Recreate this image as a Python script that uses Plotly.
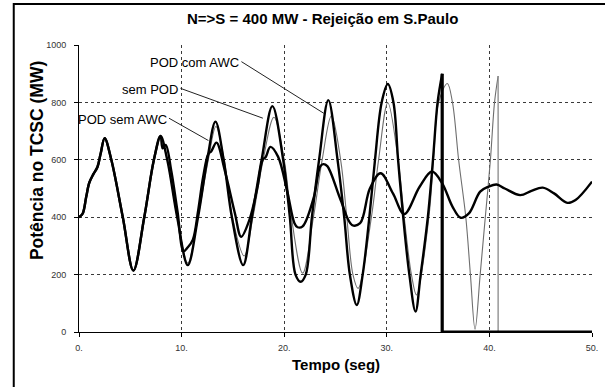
import plotly.graph_objects as go

# ---- data -------------------------------------------------------------
# common first swing (all three cases coincide)
t_common = [0.0, 0.35, 0.7, 1.0, 1.4, 1.8, 2.1, 2.5, 3.15, 4.27, 5.3, 6.36, 7.3, 7.95]
p_common = [400, 412, 470, 520, 550, 575, 620, 675, 600, 400, 214, 400, 600, 683]

# POD com AWC (thick, growing, trips near 35 s)
t_com = [8.6, 9.57, 10.6, 11.6, 12.5, 13.3, 14.1, 14.9, 16.0, 16.85, 17.8, 18.85,
         19.9, 20.55, 21.1, 21.6, 22.1, 22.7, 23.4, 24.3, 25.2, 25.85, 26.4,
         27.07, 27.65, 28.3, 28.85, 29.5, 30.1, 30.65, 31.1, 31.6, 32.2, 32.8, 33.3,
         34.0, 34.5, 34.95, 35.4]
p_com = [600, 400, 233, 400, 600, 733, 600, 400, 233, 400, 600, 787,
         600, 400, 200, 175, 200, 400, 600, 808, 600, 400, 200,
         94, 200, 400, 600, 800, 864, 800, 600, 400, 200, 71, 200,
         400, 600, 800, 900]

# sem POD (thin, growing, trips near 41 s)
t_sem = [8.6, 9.57, 10.6, 11.6, 12.6, 13.35, 14.15, 14.95, 16.1, 16.95, 17.95, 19.0,
         20.0, 20.7, 21.8, 22.85, 23.7, 24.6, 25.5, 26.1, 26.7, 27.2, 28.5, 29.2,
         30.1, 31.1, 31.7, 32.4, 32.9, 34.1, 34.55, 35.05, 35.9, 36.4, 37.0, 37.7,
         38.15, 38.6, 39.1, 39.6, 40.1, 40.5, 40.85]
p_sem = [600, 400, 240, 400, 600, 716, 600, 400, 265, 400, 600, 748,
         600, 400, 205, 400, 600, 753, 600, 400, 200, 152, 400, 600,
         799, 600, 400, 200, 129, 400, 600, 800, 866, 800, 600, 400,
         200, 10, 200, 400, 600, 800, 892]

# POD sem AWC (thick, damped)
t_pod = [8.15, 8.45, 9.0, 9.6, 10.2, 10.6, 11.1, 11.6, 12.1, 12.6, 12.9, 13.4,
         14.2, 15.2, 15.8, 16.6, 17.4, 17.9, 18.2, 18.65, 19.4, 20.3, 21.0, 21.3,
         21.8, 22.9, 23.5, 23.8, 24.2, 25.5, 26.6, 27.4, 28.35, 29.4, 30.6, 31.7,
         33.2, 34.4, 35.4, 36.4, 37.2, 38.0, 39.1, 39.9, 40.7, 41.5, 43.0, 44.1,
         45.2, 46.3, 47.6, 48.4, 50.0]
p_pod = [640, 652, 560, 420, 282, 295, 322, 420, 540, 620, 630, 660,
         564, 413, 332, 390, 506, 600, 610, 645, 611, 489, 379, 365,
         368, 471, 576, 585, 578, 460, 373, 379, 500, 553, 483, 411,
         506, 559, 518, 437, 398, 413, 489, 506, 514, 500, 477, 492,
         503, 483, 450, 460, 524]

t_end = 50.0
p_trip = 0.0

x_ticks = [0, 10, 20, 30, 40, 50]
x_tick_text = ["0.", "10.", "20.", "30.", "40.", "50."]
y_ticks = [0, 200, 400, 600, 800, 1000]

# labels: text, tail (x, y) at the text's right end, head (x, y) on the curve
labels = [
    ("POD com AWC", 15.83, 942, 23.86, 762),
    ("sem POD", 9.89, 849, 17.92, 745),
    ("POD sem AWC", 8.77, 745, 12.62, 667),
]

FONT = "Liberation Sans, Arial, sans-serif"
NARROW = "Liberation Sans Narrow, Arial Narrow, Liberation Sans, sans-serif"

fig = go.Figure()

# sem POD
x_b = t_common + t_sem
y_b = p_common + p_sem
fig.add_trace(go.Scatter(x=x_b, y=y_b, mode="lines",
                         line=dict(color="#6e6e6e", width=1.1, shape="spline", smoothing=1.0),
                         name="sem POD", showlegend=False, hoverinfo="skip"))
fig.add_trace(go.Scatter(x=[x_b[-1], x_b[-1], t_end], y=[y_b[-1], p_trip, p_trip], mode="lines",
                         line=dict(color="#8a8a8a", width=1.3),
                         showlegend=False, hoverinfo="skip"))

# POD com AWC
x_a = t_common + t_com
y_a = p_common + p_com
fig.add_trace(go.Scatter(x=x_a, y=y_a, mode="lines",
                         line=dict(color="black", width=2.4, shape="spline", smoothing=1.0),
                         name="POD com AWC", showlegend=False, hoverinfo="skip"))
fig.add_trace(go.Scatter(x=[x_a[-1], x_a[-1], t_end], y=[y_a[-1], p_trip, p_trip], mode="lines",
                         line=dict(color="black", width=3.2),
                         showlegend=False, hoverinfo="skip"))

# POD sem AWC
fig.add_trace(go.Scatter(x=t_common + t_pod, y=p_common + p_pod, mode="lines",
                         line=dict(color="black", width=2.4, shape="spline", smoothing=1.0),
                         name="POD sem AWC", showlegend=False, hoverinfo="skip"))

shapes = []
annotations = []
for text, tx, ty, hx, hy in labels:
    shapes.append(dict(type="line", xref="x", yref="y", x0=tx, y0=ty, x1=hx, y1=hy,
                       line=dict(color="#222222", width=1)))
    annotations.append(dict(x=tx, y=ty, xref="x", yref="y", text=text, showarrow=False,
                            xanchor="right", yanchor="middle", yshift=-1,
                            font=dict(family=FONT, size=13, color="black")))

# outer frame of the chart object
shapes.append(dict(type="rect", xref="paper", yref="paper",
                   x0=-0.1272, x1=1.2, y0=-0.5, y1=1.143,
                   line=dict(color="black", width=2), layer="below"))

annotations += [
    dict(text="<b>N=>S = 400 MW - Rejeição em S.Paulo</b>", xref="paper", yref="paper",
         x=0.474, y=1.094, showarrow=False, xanchor="center", yanchor="middle",
         font=dict(family=NARROW, size=15, color="black")),
    dict(text="<b>Potência no TCSC (MW)</b>", xref="paper", yref="paper",
         x=-0.0819, y=0.599, showarrow=False, textangle=-90, xanchor="center", yanchor="middle",
         font=dict(family=FONT, size=17.5, color="black")),
    dict(text="<b>Tempo (seg)</b>", xref="paper", yref="paper",
         x=0.501, y=-0.1115, showarrow=False, xanchor="center", yanchor="middle",
         font=dict(family=FONT, size=15, color="black")),
]

axis_common = dict(showgrid=True, gridcolor="#3a3a3a", griddash="3px,3px", gridwidth=1,
                   showline=True, linecolor="black", linewidth=1, zeroline=False,
                   ticks="outside", ticklen=4, tickcolor="black",
                   tickfont=dict(family=FONT, size=9, color="#333333"))

fig.update_layout(
    width=605, height=387,
    margin=dict(l=79, r=7, t=45, b=55),
    paper_bgcolor="white", plot_bgcolor="white",
    showlegend=False,
    xaxis=dict(range=[0, 50], tickvals=x_ticks, ticktext=x_tick_text,
               ticklabelstandoff=3, **axis_common),
    yaxis=dict(range=[0, 1000], tickvals=y_ticks, ticklabelstandoff=6, **axis_common),
    shapes=shapes,
    annotations=annotations,
)

fig.write_html("out.html")
